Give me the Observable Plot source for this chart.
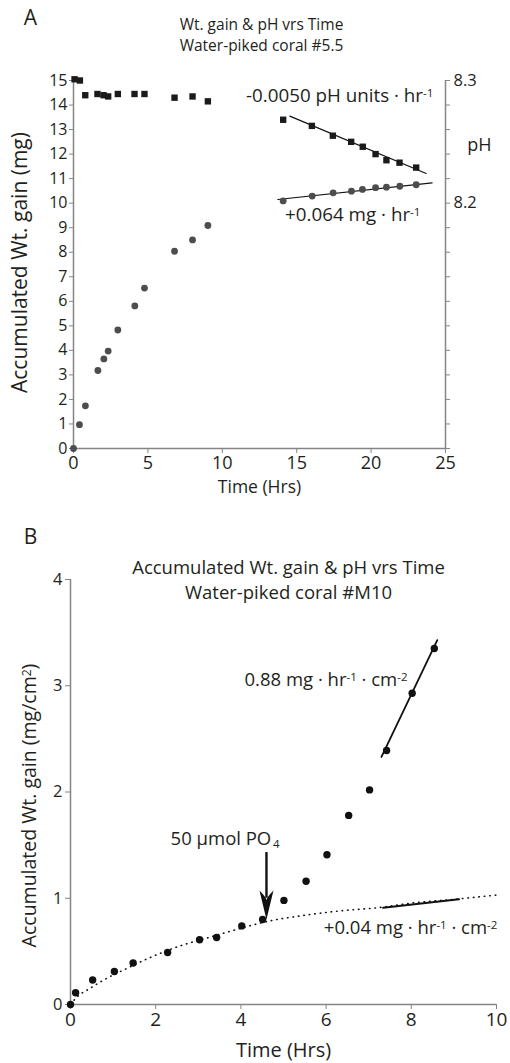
<!DOCTYPE html>
<html>
<head>
<meta charset="utf-8">
<script src="https://cdn.jsdelivr.net/npm/d3@7"></script>
<script src="https://cdn.jsdelivr.net/npm/@observablehq/plot@0.6"></script>
<style>
  html, body { margin: 0; padding: 0; background: #fff; }
  #chart svg { display: block; }
</style>
</head>
<body>
<div id="chart"></div>
<script>
// ---------- Panel A data ----------
const timeA_wt = [0, 0.4, 0.8, 1.64, 2.04, 2.33, 2.98, 4.12, 4.77, 6.79, 8.0, 9.03,
                  14.09, 16.04, 17.45, 18.68, 19.42, 20.3, 21.03, 21.93, 23.03];
const wtA = [0, 0.97, 1.74, 3.18, 3.65, 3.97, 4.83, 5.81, 6.54, 8.04, 8.5, 9.09,
             10.09, 10.29, 10.42, 10.49, 10.56, 10.63, 10.65, 10.69, 10.75];
const timeA_pH = [0.07, 0.43, 0.79, 1.61, 2.02, 2.33, 2.98, 4.1, 4.77, 6.79, 8.0, 9.03,
                  14.09, 16.02, 17.43, 18.66, 19.44, 20.3, 21.03, 21.91, 23.03];
const pHA = [8.301, 8.300, 8.288, 8.289, 8.288, 8.287, 8.289, 8.289, 8.289, 8.286, 8.287, 8.283,
             8.268, 8.263, 8.255, 8.250, 8.246, 8.240, 8.235, 8.233, 8.229];
const wtFitA_t = [13.73, 24.1];
const wtFitA_w = [10.15, 10.83];
const pHFitA_t = [14.54, 23.7];
const pHFitA_pH = [8.271, 8.2242];
const xTicksA = [0, 5, 10, 15, 20, 25];
const yTicksA = [0, 1, 2, 3, 4, 5, 6, 7, 8, 9, 10, 11, 12, 13, 14, 15];
const pHTicks = [8.00, 8.02, 8.04, 8.06, 8.08, 8.10, 8.12, 8.14, 8.16, 8.18, 8.20, 8.22, 8.24, 8.26, 8.28, 8.30];
const pHTickLabels = [8.2, 8.3];
const pHBase = 8.0, pHPerMg = 0.02; // right-axis mapping: pH = 8.0 + 0.02 * mg

// ---------- Panel B data ----------
const timeB = [0, 0.12, 0.52, 1.03, 1.47, 2.28, 3.03, 3.43, 4.02, 4.51, 5.01, 5.53, 6.02, 6.53, 7.02, 7.42, 8.02, 8.54];
const wtB = [0, 0.11, 0.23, 0.31, 0.39, 0.49, 0.61, 0.63, 0.74, 0.80, 0.98, 1.16, 1.41, 1.78, 2.02, 2.39, 2.93, 3.35];
const curveB_t = [0, 0.15, 0.45, 0.8, 1.3, 1.8, 2.6, 3.2, 3.8, 4.2, 4.6, 5.5, 6.3, 7.3, 8.0, 9.0, 10.0];
const curveB_w = [0, 0.07, 0.15, 0.235, 0.335, 0.43, 0.555, 0.625, 0.695, 0.74, 0.78, 0.84, 0.88, 0.915, 0.955, 0.99, 1.03];
const steepFit_t = [7.3, 8.61];
const steepFit_w = [2.33, 3.43];
const flatFit_t = [7.34, 9.12];
const flatFit_w = [0.91, 0.99];
const arrowB = {t: 4.6, from: 1.43, to: 0.80};
const xTicksB = [0, 2, 4, 6, 8, 10];
const yTicksB = [0, 1, 2, 3, 4];

const INK = "#231f20";
const AXIS = "#858585";
const FONT = "'Open Sans', 'DejaVu Sans', sans-serif";

const zip = (a, b) => a.map((v, i) => [v, b[i]]);
const M = {lineAnchor: "middle", textAnchor: "middle", fill: INK};

// ---------- Panel A ----------
const wtPtsA = zip(timeA_wt, wtA);
const pHPtsA = zip(timeA_pH, pHA).map(([t, p]) => [t, (p - pHBase) / pHPerMg]);
const wtFitA = zip(wtFitA_t, wtFitA_w);
const pHFitA = zip(pHFitA_t, pHFitA_pH).map(([t, p]) => [t, (p - pHBase) / pHPerMg]);

const plotA = Plot.plot({
  width: 510, height: 500,
  marginTop: 80, marginBottom: 52, marginLeft: 73, marginRight: 65,
  x: {domain: [0, 25]},
  y: {domain: [0, 15]},
  style: {fontFamily: FONT, color: INK, background: "#fff", overflow: "visible"},
  marks: [
    Plot.axisX({ticks: xTicksA, tickSize: 5, tickPadding: 3, stroke: AXIS, fill: INK, fontSize: 18, label: null}),
    Plot.axisY({ticks: yTicksA, tickSize: 4, tickPadding: 2, stroke: AXIS, fill: INK, fontSize: 16, label: null}),
    Plot.axisY({anchor: "right", ticks: pHTicks.map(p => (p - pHBase) / pHPerMg), tickSize: 4, tickPadding: 4,
      stroke: AXIS, fill: INK, fontSize: 16.5, label: null,
      tickFormat: d => {
        const p = +(pHBase + d * pHPerMg).toFixed(2);
        return pHTickLabels.includes(p) ? p.toFixed(1) : "";
      }}),
    Plot.ruleY([0], {stroke: AXIS, strokeWidth: 1.5}),
    Plot.ruleX([0], {stroke: AXIS, strokeWidth: 1.5}),
    Plot.ruleX([25], {stroke: AXIS, strokeWidth: 1.5}),
    Plot.line(wtFitA, {stroke: "#111", strokeWidth: 1.2}),
    Plot.line(pHFitA, {stroke: "#111", strokeWidth: 1.2}),
    Plot.dot(wtPtsA, {r: 3.4, fill: "#4d4d4d", stroke: "none"}),
    Plot.dot(pHPtsA, {symbol: "square", r: 3.6, fill: "#1a1a1a", stroke: "none"}),
    Plot.text(["-0.0050 pH units · hr^{-1}"], {...M, x: 24.19, y: 14.37, textAnchor: "end", fontSize: 18.8}),
    Plot.text(["+0.064 mg · hr^{-1}"], {...M, x: 23.32, y: 9.51, textAnchor: "end", fontSize: 18.8}),
    Plot.text(["pH"], {...M, frameAnchor: "right", dx: 34, dy: -119, fontSize: 18}),
    Plot.text(["Accumulated Wt. gain (mg)"], {...M, frameAnchor: "left", dx: -53, dy: -2, rotate: -90, fontSize: 21}),
    Plot.text(["Time (Hrs)"], {...M, frameAnchor: "bottom", dy: 39, fontSize: 17.5}),
    Plot.text(["A"], {...M, frameAnchor: "top-left", dx: -43, dy: -62, fontSize: 21}),
    Plot.text(["Wt. gain & pH vrs Time"], {...M, frameAnchor: "top", dx: 2, dy: -55, fontSize: 15.5}),
    Plot.text(["Water-piked coral #5.5"], {...M, frameAnchor: "top", dx: 2, dy: -34, fontSize: 15.5})
  ]
});

// ---------- Panel B ----------
const ptsB = zip(timeB, wtB);
const curveB = zip(curveB_t, curveB_w);
const steepB = zip(steepFit_t, steepFit_w);
const flatB = zip(flatFit_t, flatFit_w);

const arrowHead = {
  draw(context) {
    context.moveTo(0, 0);
    context.lineTo(-7, -29);
    context.quadraticCurveTo(0, -22, 0, -19);
    context.quadraticCurveTo(0, -22, 7, -29);
    context.closePath();
  }
};

const plotB = Plot.plot({
  width: 510, height: 563,
  marginTop: 79, marginBottom: 59, marginLeft: 70, marginRight: 14,
  x: {domain: [0, 10]},
  y: {domain: [0, 4]},
  style: {fontFamily: FONT, color: INK, background: "#fff", overflow: "visible"},
  marks: [
    Plot.axisX({ticks: xTicksB, tickSize: 5, tickPadding: 3, stroke: AXIS, fill: INK, fontSize: 19, label: null, tickFormat: d3.format("d")}),
    Plot.axisY({ticks: yTicksB, tickSize: 5, tickPadding: 3, stroke: AXIS, fill: INK, fontSize: 16.5, label: null, tickFormat: d3.format("d")}),
    Plot.ruleY([0], {stroke: AXIS, strokeWidth: 1.5}),
    Plot.ruleX([0], {stroke: AXIS, strokeWidth: 1.5}),
    Plot.line(curveB, {curve: "monotone-x", stroke: "#111", strokeWidth: 1.6, strokeDasharray: "0.5,5", strokeLinecap: "round"}),
    Plot.line(steepB, {stroke: "#111", strokeWidth: 1.8}),
    Plot.line(flatB, {stroke: "#111", strokeWidth: 2}),
    Plot.dot(ptsB, {r: 3.7, fill: "#111", stroke: "none"}),
    Plot.ruleX([arrowB], {x: "t", y1: "from", y2: d => d.to + 0.2, stroke: "#111", strokeWidth: 2.4}),
    Plot.dot([arrowB], {x: "t", y: "to", r: 1, symbol: arrowHead, fill: "#111", stroke: "none"}),
    Plot.text(["0.88 mg · hr^{-1} · cm^{-2}"], {...M, x: 7.91, y: 3.05, textAnchor: "end", fontSize: 18.5}),
    Plot.text(["+0.04 mg · hr^{-1} · cm^{-2}"], {...M, x: 10.02, y: 0.72, textAnchor: "end", fontSize: 18.5}),
    Plot.text(["50 µmol PO_{4}"], {...M, x: 2.35, y: 1.56, textAnchor: "start", fontSize: 18.5}),
    Plot.text(["Accumulated Wt. gain (mg/cm^{2})"], {...M, frameAnchor: "left", dx: -41, dy: 13.5, rotate: -90, fontSize: 19.5}),
    Plot.text(["Time (Hrs)"], {...M, frameAnchor: "bottom", dy: 46, fontSize: 20}),
    Plot.text(["B"], {...M, frameAnchor: "top-left", dx: -40, dy: -42, fontSize: 21}),
    Plot.text(["Accumulated Wt. gain & pH vrs Time"], {...M, frameAnchor: "top", dx: 5, dy: -11, fontSize: 18.5}),
    Plot.text(["Water-piked coral #M10"], {...M, frameAnchor: "top", dx: 5, dy: 14, fontSize: 18.5})
  ]
});

// Turn ^{..} / _{..} markers into real superscript / subscript tspans
function richText(svg) {
  const NS = "http://www.w3.org/2000/svg";
  svg.querySelectorAll("text").forEach(t => {
    const s = t.textContent;
    if (!/[\^_]\{/.test(s)) return;
    while (t.firstChild) t.removeChild(t.firstChild);
    const re = /([\^_])\{([^}]*)\}/g;
    let last = 0, m;
    while ((m = re.exec(s))) {
      if (m.index > last) t.appendChild(document.createTextNode(s.slice(last, m.index)));
      const ts = document.createElementNS(NS, "tspan");
      ts.setAttribute("font-size", "62%");
      ts.setAttribute("baseline-shift", m[1] === "^" ? "45%" : "-25%");
      if (m[1] === "_") ts.setAttribute("dx", "0.15em");
      ts.textContent = m[2];
      t.appendChild(ts);
      last = re.lastIndex;
    }
    if (last < s.length) t.appendChild(document.createTextNode(s.slice(last)));
  });
}
richText(plotA);
richText(plotB);

const chart = document.getElementById("chart");
chart.appendChild(plotA);
chart.appendChild(plotB);
</script>
</body>
</html>
